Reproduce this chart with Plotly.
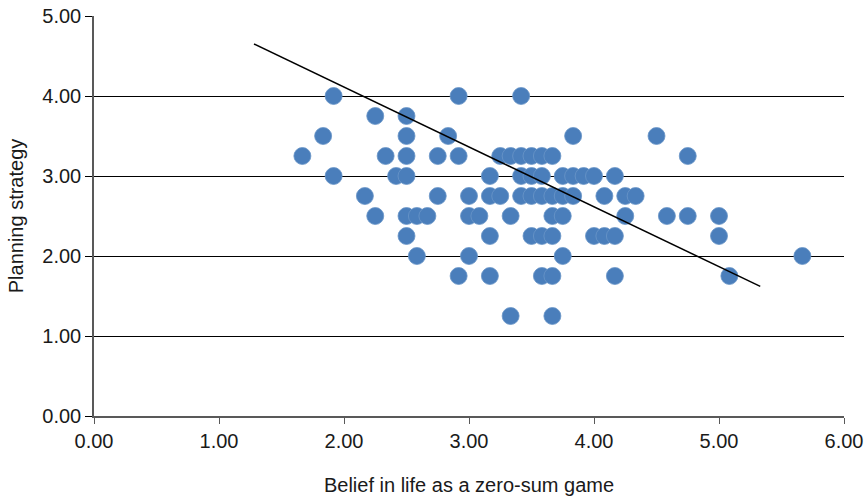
import plotly.graph_objects as go

# Data
belief = [
    1.917, 2.917, 3.417,
    2.25, 2.5,
    1.833, 2.5, 2.833, 3.833, 4.5,
    1.667, 2.333, 2.5, 2.75, 2.917, 3.25, 3.333, 3.417, 3.5, 3.583, 3.667, 4.75,
    1.917, 2.417, 2.5, 3.167, 3.417, 3.5, 3.583, 3.75, 3.833, 3.917, 4.0, 4.167,
    2.167, 2.75, 3.0, 3.167, 3.25, 3.417, 3.5, 3.583, 3.667, 3.75, 3.833, 4.083, 4.25, 4.333,
    2.25, 2.5, 2.583, 2.667, 3.0, 3.083, 3.333, 3.667, 3.75, 4.25, 4.583, 4.75, 5.0,
    2.5, 3.167, 3.5, 3.583, 3.667, 4.0, 4.083, 4.167, 5.0,
    2.583, 3.0, 3.75, 5.667,
    2.917, 3.167, 3.583, 3.667, 4.167, 5.083,
    3.333, 3.667,
]
planning = (
    [4.0] * 3 + [3.75] * 2 + [3.5] * 5 + [3.25] * 12 + [3.0] * 12 + [2.75] * 14
    + [2.5] * 13 + [2.25] * 9 + [2.0] * 4 + [1.75] * 6 + [1.25] * 2
)

trend_x = [1.28, 5.33]
trend_y = [4.65, 1.62]

x_ticks = [0, 1, 2, 3, 4, 5, 6]
y_ticks = [0, 1, 2, 3, 4, 5]

fig = go.Figure()
fig.add_trace(go.Scatter(
    x=belief, y=planning, mode="markers",
    marker=dict(size=17, color="#4A7EBB", line=dict(width=0.8, color="#6A96C8")),
    showlegend=False, hoverinfo="x+y",
))
fig.add_trace(go.Scatter(
    x=trend_x, y=trend_y, mode="lines",
    line=dict(color="#000000", width=1.5),
    showlegend=False, hoverinfo="skip",
))

tick_font = dict(family="Liberation Sans, Arial, sans-serif", size=20, color="#1a1a1a")
title_font = dict(family="Liberation Sans, Arial, sans-serif", size=20, color="#1a1a1a")

fig.update_layout(
    width=868, height=501,
    margin=dict(l=94, r=24, t=16, b=85, autoexpand=False),
    paper_bgcolor="white", plot_bgcolor="white",
    font=tick_font,
    xaxis=dict(
        range=[0, 6], tickvals=x_ticks, tickformat=".2f",
        showgrid=False, zeroline=False,
        showline=True, linecolor="#595959", linewidth=1.5,
        ticks="outside", ticklen=6, tickcolor="#595959", tickwidth=1,
        tickfont=tick_font,
        title=dict(text="Belief in life as a zero-sum game", standoff=27, font=title_font),
        fixedrange=True, automargin=False,
    ),
    yaxis=dict(
        range=[0, 5], tickvals=y_ticks, tickformat=".2f",
        showgrid=True, gridcolor="#000000", gridwidth=1,
        zeroline=False,
        showline=True, linecolor="#595959", linewidth=1.5,
        ticks="outside", ticklen=7, tickcolor="#000000", tickwidth=1,
        tickfont=tick_font,
        title=dict(text="Planning strategy", standoff=13, font=title_font),
        fixedrange=True, automargin=False,
    ),
)

fig.write_html(
    "out.html",
    config={"displayModeBar": False},
    post_script="document.body.style.margin='0';document.body.style.padding='0';",
)
